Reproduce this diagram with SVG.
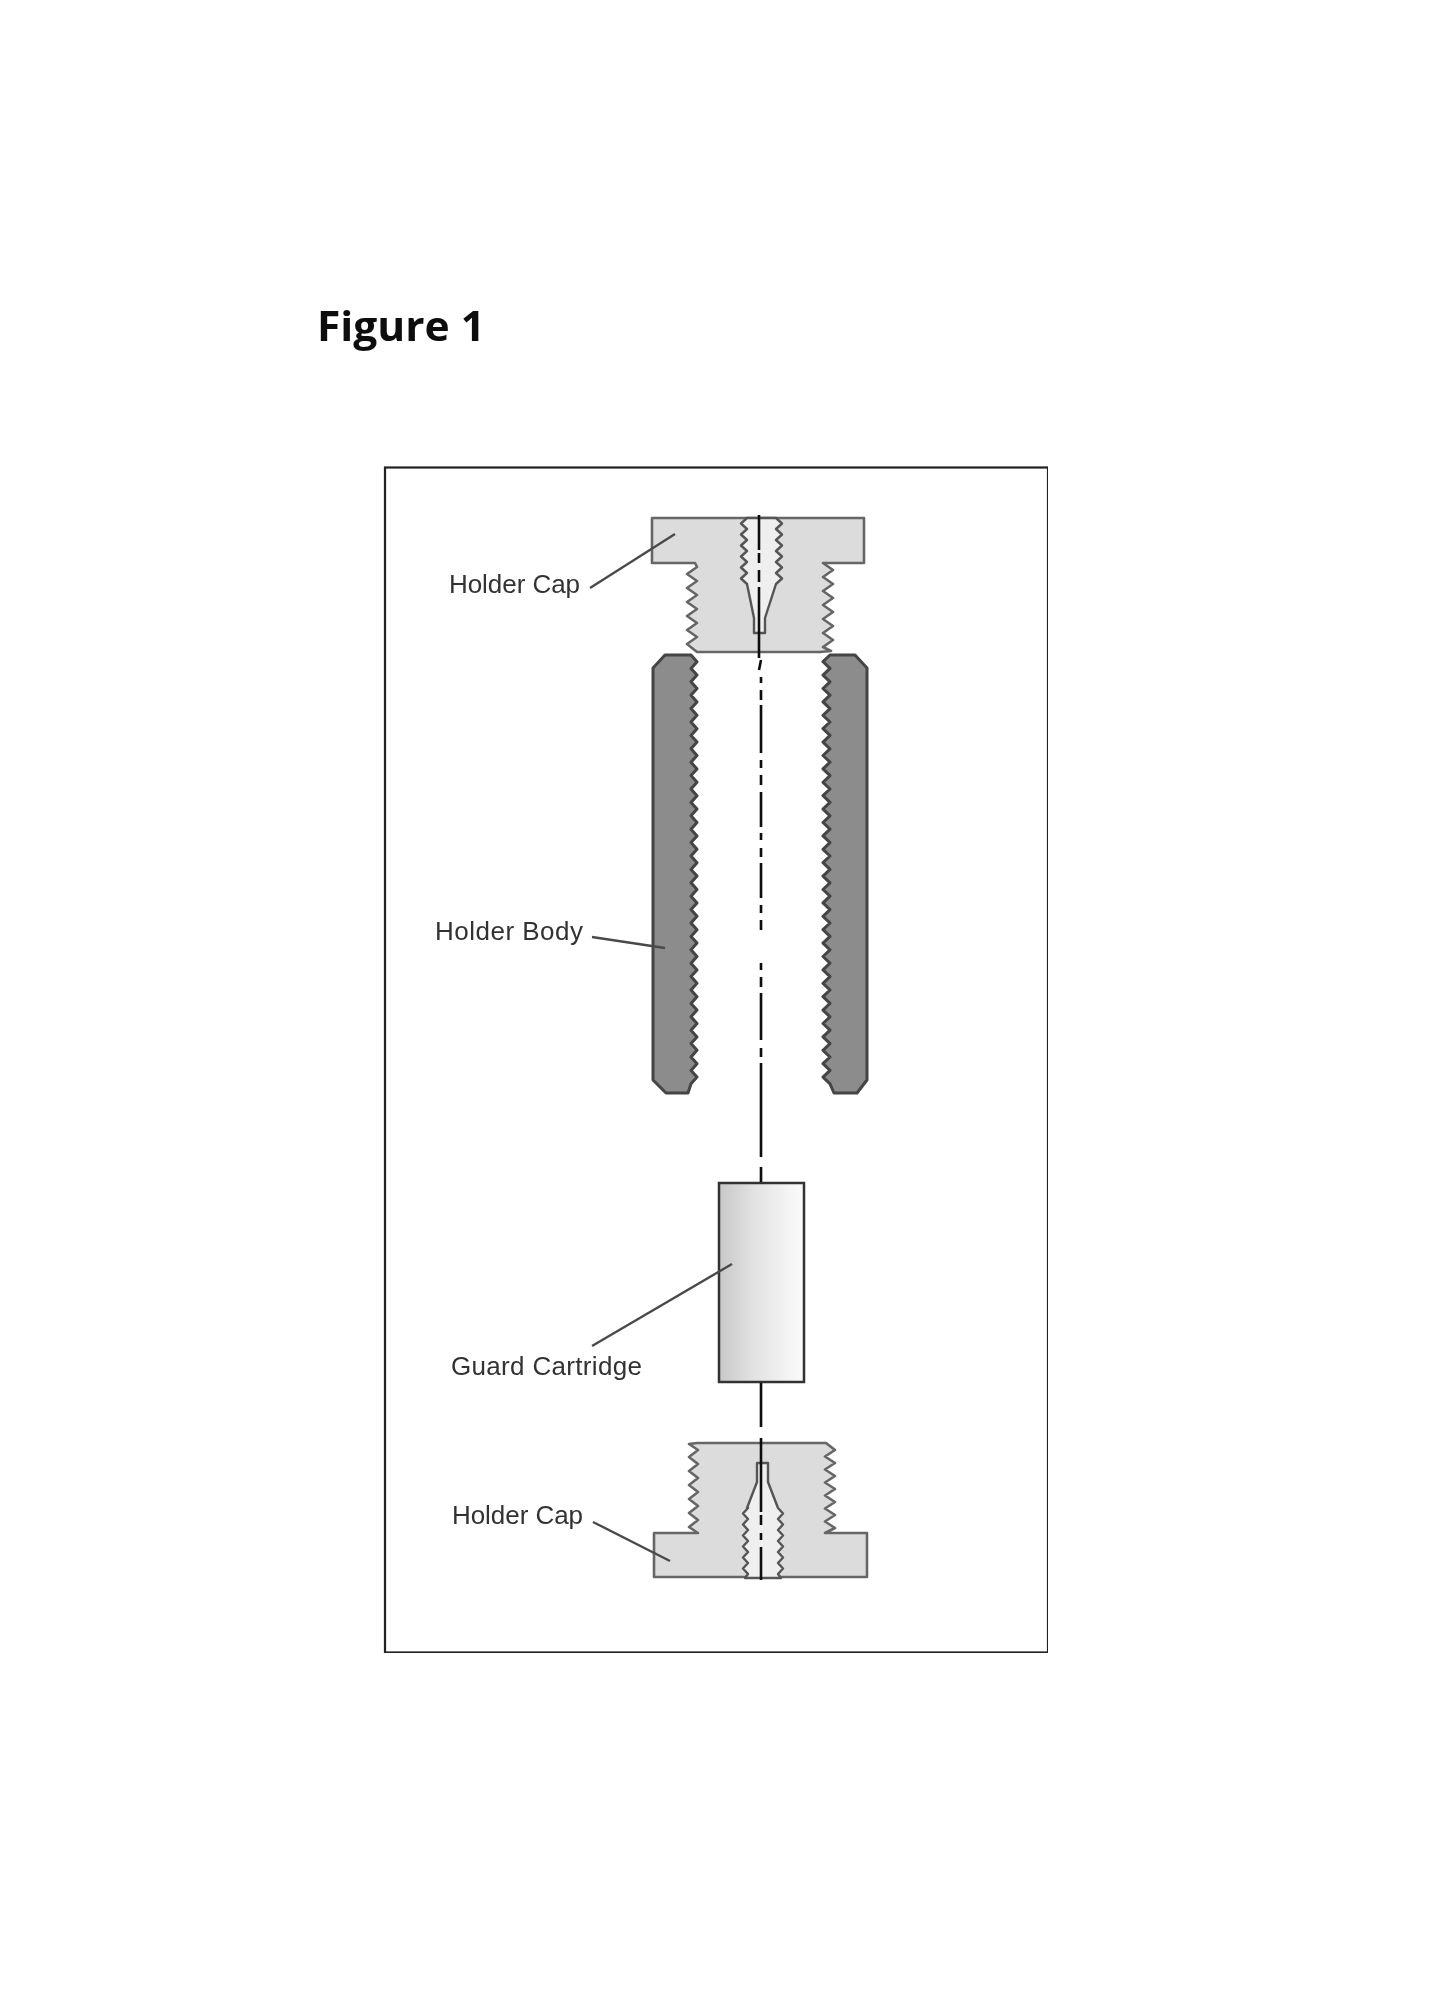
<svg xmlns="http://www.w3.org/2000/svg" width="1440" height="2008" viewBox="0 0 1440 2008">
<style>
.cap{fill:#dcdcdc;stroke:#666;stroke-width:2.6;stroke-linejoin:round}
.hole{fill:#efefef;stroke:#555;stroke-width:2.4;stroke-linejoin:round}
.body{fill:#8c8c8c;stroke:#444;stroke-width:3;stroke-linejoin:round}
.lead{fill:none;stroke:#4a4a4a;stroke-width:2.4}
.axis{fill:none;stroke:#111;stroke-width:2.6}
.lbl{font-family:"Liberation Sans",Arial,sans-serif;fill:#333;font-size:26px}
</style>
<defs>
<linearGradient id="g" x1="0" x2="1" y1="0" y2="0"><stop offset="0" stop-color="#c8c8c8"/><stop offset="0.45" stop-color="#e4e4e4"/><stop offset="1" stop-color="#fbfbfb"/></linearGradient>
<filter id="soft" x="0" y="0" width="1" height="1" filterUnits="objectBoundingBox"><feGaussianBlur stdDeviation="0.7"/></filter>
</defs>
<rect width="1440" height="2008" fill="#fff"/>
<g filter="url(#soft)">
<text id="title" x="317" y="341" font-family="'Open Sans','Liberation Sans',sans-serif" font-weight="700" font-size="41" fill="#111" textLength="168" lengthAdjust="spacingAndGlyphs">Figure 1</text>
<rect id="frame" x="385" y="467.500" width="663" height="1185" fill="none" stroke="#222" stroke-width="2.2"/>

<g id="holder-cap-top">
<path class="cap" d="M652 518H864V563H823l10 7l-10 7l10 7l-10 7l10 7l-10 7l10 7l-10 7l10 7l-10 7l10 7l-10 7l8 4L820 652H697l-10-8l10-7l-10-7l10-7l-10-7l10-7l-10-7l10-7l-10-7l10-7l-10-7l10-7l-2-4H652Z"/>
<path class="hole" d="M747 518l-6 5.500l6 5.500l-6 5.500l6 5.500l-6 5.500l6 5.500l-6 5.500l6 5.500l-6 5.500l6 5.500l-6 5.500l6 5.500L754 618V633H765V618L776 584l6-5.500l-6-5.500l6-5.500l-6-5.500l6-5.500l-6-5.500l6-5.500l-6-5.500l6-5.500l-6-5.500l6-5.500l-6-5.500Z"/>
<text class="lbl" x="449" y="593" textLength="131">Holder Cap</text>
</g>

<g id="holder-body">
<path class="body" d="M665 655H691
l6 6.7l-6 6.7l6 6.7l-6 6.7l6 6.7l-6 6.7l6 6.7l-6 6.7l6 6.7l-6 6.7l6 6.7l-6 6.7l6 6.7l-6 6.7l6 6.7l-6 6.7
l6 6.7l-6 6.7l6 6.7l-6 6.7l6 6.7l-6 6.7l6 6.7l-6 6.7l6 6.7l-6 6.7l6 6.7l-6 6.7l6 6.7l-6 6.7l6 6.7l-6 6.7
l6 6.7l-6 6.7l6 6.7l-6 6.7l6 6.7l-6 6.7l6 6.7l-6 6.7l6 6.7l-6 6.7l6 6.7l-6 6.7l6 6.7l-6 6.7l6 6.7l-6 6.7
l6 6.7l-6 6.7l6 6.7l-6 6.7l6 6.7l-6 6.7l6 6.7l-6 6.7l6 6.7l-6 6.7l6 6.7l-6 6.7l6 6.7l-6 6.7l6 6.7l-6 6.7
L688 1093H666L653 1080V668Z"/>
<path class="body" d="M855 655H830
l-7 6.7l7 6.7l-7 6.7l7 6.7l-7 6.7l7 6.7l-7 6.7l7 6.7l-7 6.7l7 6.7l-7 6.7l7 6.7l-7 6.7l7 6.7l-7 6.7l7 6.7
l-7 6.7l7 6.7l-7 6.7l7 6.7l-7 6.7l7 6.7l-7 6.7l7 6.7l-7 6.7l7 6.7l-7 6.7l7 6.7l-7 6.7l7 6.7l-7 6.7l7 6.7
l-7 6.7l7 6.7l-7 6.7l7 6.7l-7 6.7l7 6.7l-7 6.7l7 6.7l-7 6.7l7 6.7l-7 6.7l7 6.7l-7 6.7l7 6.7l-7 6.7l7 6.7
l-7 6.7l7 6.7l-7 6.7l7 6.7l-7 6.7l7 6.7l-7 6.7l7 6.7l-7 6.7l7 6.7l-7 6.7l7 6.7l-7 6.7l7 6.7l-7 6.7l7 6.7
L834 1093H857L867 1080V668Z"/>
<text class="lbl" x="435" y="940" textLength="148">Holder Body</text>
</g>

<g id="guard-cartridge">
<rect x="719" y="1183" width="85" height="199" fill="url(#g)" stroke="#333" stroke-width="2.5"/>
<text class="lbl" x="451" y="1375" textLength="191">Guard Cartridge</text>
</g>

<g id="holder-cap-bottom">
<path class="cap" d="M697 1443H826L835 1450l-10 6.500l10 6.500l-10 6.500l10 6.500l-10 6.500l10 6.500l-10 6.500l10 6.500l-10 6.500l10 6.500l-10 6.500l10 6.500l-10 5H867V1577H654V1533H698l-9-6l9-7l-9-7l9-7l-9-7l9-7l-9-7l9-7l-9-7l9-7l-9-7l9-7l-9-6Z"/>
<path class="hole" d="M757 1463H768V1482L778 1508l5 5.500l-5 5.500l5 5.500l-5 5.500l5 5.500l-5 5.500l5 5.500l-5 5.500l5 5.500l-5 5.500l5 5.500l-5 5.500l3 4H745l3-4l-5-5.500l5-5.500l-5-5.500l5-5.500l-5-5.500l5-5.500l-5-5.500l5-5.500l-5-5.500l5-5.500l-5-5.500l5-5.500L747 1508L757 1482Z"/>
<text class="lbl" x="452" y="1524" textLength="131">Holder Cap</text>
</g>

<g id="connectors">
<path class="lead" d="M590 588L675 534"/>
<path class="lead" d="M592 937L665 948"/>
<path class="lead" d="M592 1346L732 1264"/>
<path class="lead" d="M593 1522L670 1561"/>
<path class="axis" d="M759 515V550M759 553V563M759 570V582M759 587V658M761 660L759 670M761 677V683M761 690V700M761 705V753M761 760V768M761 775V785M761 792V827M761 833V840M761 848V857M761 863V898M761 905V913M761 920V930M761 963V970M761 977V987M761 993V1040M761 1048V1057M761 1063V1157M761 1167V1182M761 1383V1427M761 1438V1512M761 1515V1525M761 1533V1540M761 1547V1580"/>
</g>
</g>
</svg>
